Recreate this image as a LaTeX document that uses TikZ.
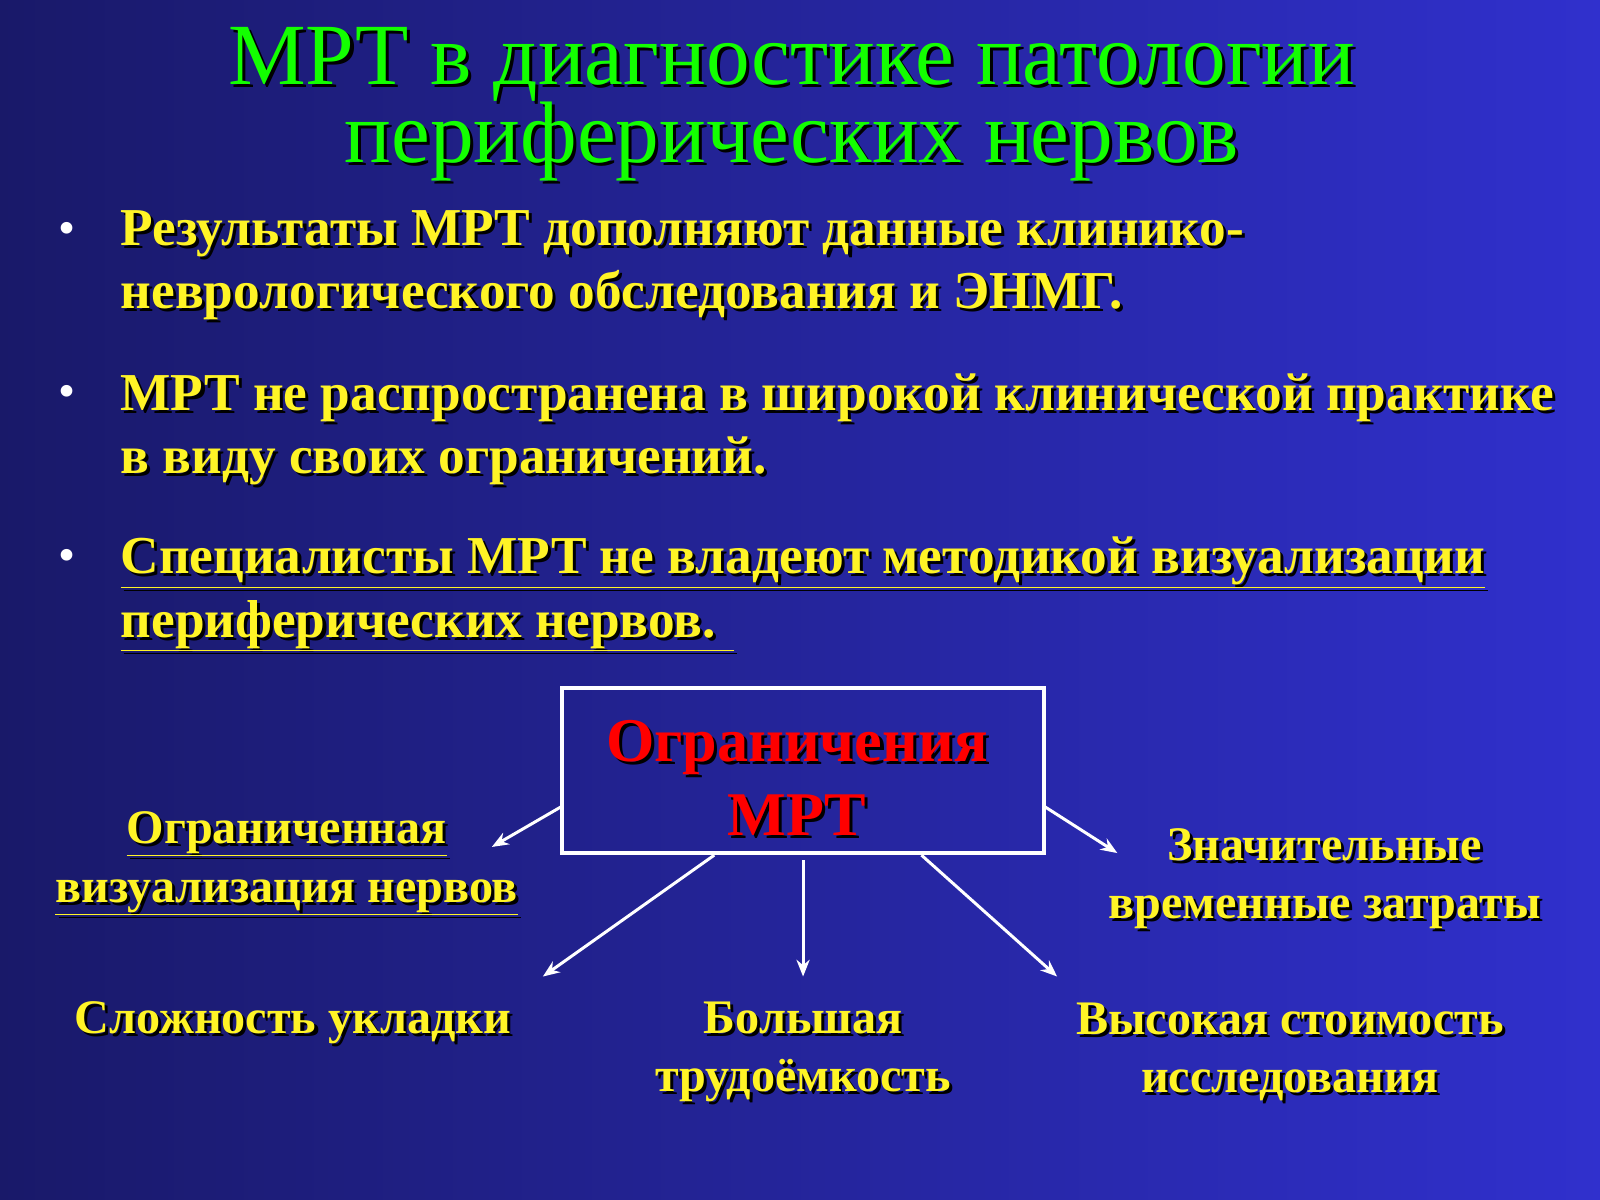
\documentclass[tikz,border=0pt]{standalone}
\usepackage{fontspec}
\setmainfont{Liberation Serif}
\usetikzlibrary{arrows.meta,calc}
\newcommand{\shtext}[5]{%
  \node[#3, text=black] at ($(#2)+(3,3)$) {#5};
  \node[#3, text=#4] (#1) at (#2) {#5};}
\begin{document}
\begin{tikzpicture}[x=0.03cm,y=-0.03cm,
  ttl/.style={font=\fontsize{73}{64}\selectfont, align=center},
  bul/.style={font=\bfseries\fontsize{44.6}{53}\selectfont, align=left, anchor=north west, inner sep=0pt},
  lab/.style={font=\bfseries\fontsize{40.3}{49}\selectfont, align=center, inner sep=0pt},
  arr/.style={draw=white, line width=2.5pt, -{Stealth[length=14pt,width=11pt]}}]
\useasboundingbox (0,0) rectangle (1568,1176);
\shade[left color={rgb,255:red,25;green,25;blue,105}, right color={rgb,255:red,48;green,48;blue,205}] (0,0) rectangle (1568,1176);
\shtext{t}{776,102}{ttl}{green!90!lime}{МРТ в диагностике патологии\\периферических нервов}
\foreach \y in {228,388,548}{\node[text=white, font=\bfseries\fontsize{36}{40}\selectfont] at (66,\y) {•};}
\shtext{b1}{118,206}{bul}{yellow!85!white}{Результаты МРТ дополняют данные клинико-\\неврологического обследования и ЭНМГ.}
\shtext{b2}{118,366}{bul}{yellow!85!white}{МРТ не распространена в широкой клинической практике\\в виду своих ограничений.}
\shtext{b3}{118,526}{bul}{yellow!85!white}{\underline{Специалисты МРТ не владеют методикой визуализации}\\\underline{периферических нервов. }}
\draw[white, line width=3.5pt] (551,674) rectangle (1023,836);
\coordinate (bl) at (551,790); \coordinate (br) at (1023,790);
\coordinate (b1s) at (700,838); \coordinate (b2s) at (787,843); \coordinate (b3s) at (903,838);
\shtext{bt}{781,762}{lab,font=\bfseries\fontsize{52}{62}\selectfont}{red}{Ограничения\\МРТ}
\shtext{l1}{281,846}{lab}{yellow!85!white}{\underline{Ограниченная}\\\underline{визуализация нервов}}
\shtext{l2}{1298,861}{lab}{yellow!85!white}{Значительные\\временные затраты}
\shtext{l3}{287,1002}{lab}{yellow!85!white}{Сложность укладки}
\shtext{l4}{787,1031}{lab}{yellow!85!white}{Большая\\трудоёмкость}
\shtext{l5}{1264,1031}{lab}{yellow!85!white}{Высокая стоимость\\исследования}
\coordinate (e1) at (482,830); \coordinate (e2) at (532,957); \coordinate (e3) at (787,957);
\coordinate (e4) at (1036,957); \coordinate (e5) at (1095,836);
\draw[arr] (bl) -- (e1);
\draw[arr] (b1s) -- (e2);
\draw[arr] (b2s) -- (e3);
\draw[arr] (b3s) -- (e4);
\draw[arr] (br) -- (e5);
\end{tikzpicture}
\end{document}
